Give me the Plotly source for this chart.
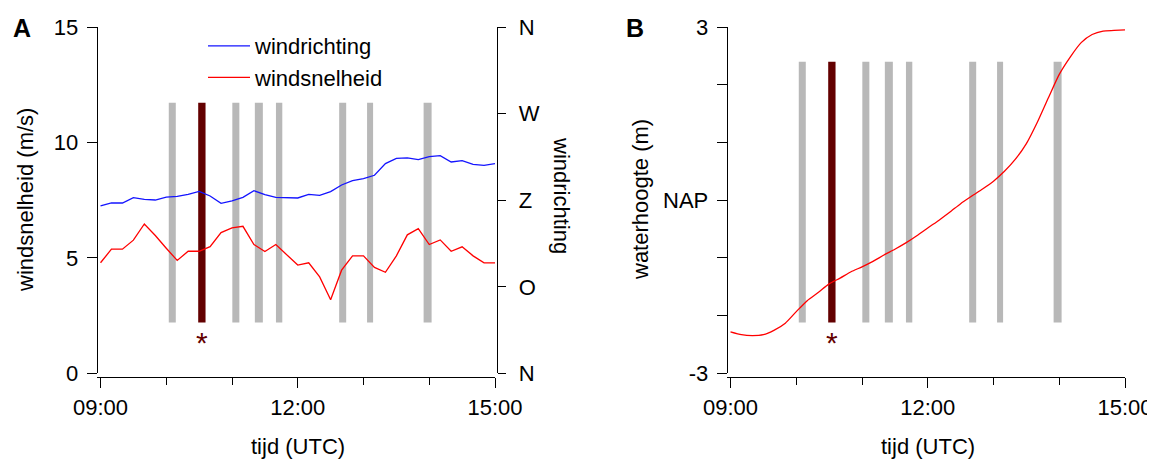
import plotly.graph_objects as go

# Page body adds an 8 px offset; the figure is sized to fit the 1155x464 window
OFF = 8
W, H = 1155 - OFF, 464 - OFF
DAY = "2000-01-01 "

# ---------------- data ----------------
times = ["09:00", "09:10", "09:20", "09:30", "09:40", "09:50",
         "10:00", "10:10", "10:20", "10:30", "10:40", "10:50",
         "11:00", "11:10", "11:20", "11:30", "11:40", "11:50",
         "12:00", "12:10", "12:20", "12:30", "12:40", "12:50",
         "13:00", "13:10", "13:20", "13:30", "13:40", "13:50",
         "14:00", "14:10", "14:20", "14:30", "14:40", "14:50", "15:00"]

wind_speed = [4.79, 5.38, 5.38, 5.77, 6.47, 5.97, 5.42, 4.89, 5.29, 5.29,
              5.49, 6.10, 6.30, 6.37, 5.58, 5.28, 5.58, 5.15, 4.69, 4.79,
              4.18, 3.19, 4.47, 5.09, 5.09, 4.59, 4.38, 5.09, 6.00, 6.27,
              5.58, 5.78, 5.29, 5.48, 5.09, 4.79, 4.79]

wind_dir = [174.0, 177.1, 177.1, 182.6, 180.9, 180.2, 183.3, 184.0, 186.1, 189.2,
            184.4, 176.7, 179.2, 183.0, 189.9, 185.8, 183.0, 182.3, 182.3, 186.1,
            185.1, 188.9, 195.8, 200.3, 202.4, 205.9, 218.0, 223.5, 223.9, 222.1,
            225.2, 226.3, 219.7, 221.1, 217.3, 216.2, 218.0]

water_level = [-2.28, -2.33, -2.345, -2.33, -2.25, -2.13, -1.93, -1.74, -1.60, -1.45,
               -1.35, -1.24, -1.155, -1.06, -0.95, -0.85, -0.74, -0.615, -0.48, -0.35,
               -0.21, -0.06, 0.07, 0.195, 0.33, 0.50, 0.71, 0.98, 1.35, 1.77,
               2.18, 2.48, 2.73, 2.87, 2.93, 2.94, 2.95]

event_times = ["10:05:30", "10:32:30", "11:03:30", "11:24:30",
               "11:43:00", "12:41:00", "13:06:00", "13:58:30"]
event_width_min = [6.4, 6.7, 6.4, 7.3, 5.8, 6.4, 5.5, 7.3]
highlight = 1  # the event marked with *

speed_band = [2.2, 11.72]     # m/s, vertical extent of event bars (panel A)
level_band = [-2.12, 2.40]    # m, vertical extent of event bars (panel B)

dir_ticks = [0, 90, 180, 270, 360]
dir_labels = ["N", "O", "Z", "W", "N"]
level_ticks = [-3, 0, 3]
level_labels = ["-3", "NAP", "3"]

# ---------------- styles ----------------
FONT = "Liberation Sans, Arial, sans-serif"
FS = 22
GRAY = "#b8b8b8"
DARK = "#630000"
BLUE = "#1414ff"
RED = "#ff0000"

t = [DAY + s for s in times]
ev_x = [DAY + s for s in event_times]
ev_w = [m * 60000 for m in event_width_min]
ev_col = [DARK if i == highlight else GRAY for i in range(len(event_times))]


def px_x(p):
    # window pixel -> paper fraction
    return (p - OFF) / W


def px_y(p):
    return 1 - (p - OFF) / H


fig = go.Figure()

# Panel A bars
fig.add_trace(go.Bar(
    x=ev_x, y=[speed_band[1] - speed_band[0]] * len(ev_x), base=speed_band[0],
    width=ev_w, marker=dict(color=ev_col, line=dict(width=0)),
    xaxis="x", yaxis="y", showlegend=False, hoverinfo="skip"))
# Panel B bars
fig.add_trace(go.Bar(
    x=ev_x, y=[level_band[1] - level_band[0]] * len(ev_x), base=level_band[0],
    width=ev_w, marker=dict(color=ev_col, line=dict(width=0)),
    xaxis="x2", yaxis="y3", showlegend=False, hoverinfo="skip"))

# Lines
fig.add_trace(go.Scatter(x=t, y=wind_dir, mode="lines", name="windrichting",
                         line=dict(color=BLUE, width=1.3), xaxis="x", yaxis="y2"))
fig.add_trace(go.Scatter(x=t, y=wind_speed, mode="lines", name="windsnelheid",
                         line=dict(color=RED, width=1.3), xaxis="x", yaxis="y"))
fig.add_trace(go.Scatter(x=t, y=water_level, mode="lines", showlegend=False,
                         line=dict(color=RED, width=1.3, shape="spline", smoothing=0.6),
                         xaxis="x2", yaxis="y3"))

x_range = [DAY + "08:56:48", DAY + "15:00"]
ydom = [px_y(373.4), px_y(27)]
xaxis_common = dict(
    type="date", range=x_range, tickformat="%H:%M",
    tick0=DAY + "09:00", dtick=3 * 3600000,
    showline=True, linecolor="black", linewidth=1,
    ticks="outside", ticklen=10, tickwidth=1, tickcolor="black",
    minor=dict(dtick=3600000, ticks="outside", ticklen=7, tickwidth=1, tickcolor="black",
               showgrid=False),
    showgrid=False, zeroline=False, anchor="free", position=px_y(377),
    automargin=False, ticklabelstandoff=1, ticklabeloverflow="allow",
    tickfont=dict(family=FONT, size=FS, color="black"),
)
yaxis_common = dict(
    showline=True, linecolor="black", linewidth=1,
    ticks="outside", ticklen=10, tickwidth=1, tickcolor="black",
    showgrid=False, zeroline=False, anchor="free", domain=ydom,
    automargin=False, ticklabelstandoff=4, ticklabeloverflow="allow",
    tickfont=dict(family=FONT, size=FS, color="black"),
)
y2_common = {k: v for k, v in yaxis_common.items() if k not in ("domain", "ticklen", "ticklabelstandoff")}

fig.update_layout(
    template="none",
    width=W, height=H,
    margin=dict(l=0, r=0, t=0, b=0, autoexpand=False),
    paper_bgcolor="white", plot_bgcolor="white",
    font=dict(family=FONT, size=FS, color="black"),
    barmode="overlay",
    xaxis=dict(domain=[px_x(97), px_x(495)], **xaxis_common),
    xaxis2=dict(domain=[px_x(727), px_x(1125)], **xaxis_common),
    yaxis=dict(range=[0, 15], tickvals=[0, 5, 10, 15], position=px_x(96.7), **yaxis_common),
    yaxis2=dict(range=[0, 360], tickvals=dir_ticks, ticktext=dir_labels, overlaying="y",
                side="right", position=px_x(497.3), ticklen=8, ticklabelstandoff=8,
                **y2_common),
    yaxis3=dict(range=[-3, 3], tickvals=level_ticks, ticktext=level_labels,
                minor=dict(dtick=1, ticks="outside", ticklen=10, tickwidth=1,
                           tickcolor="black", showgrid=False),
                position=px_x(726.7), **yaxis_common),
    legend=dict(x=px_x(203), y=px_y(25), xanchor="left", yanchor="top",
                bgcolor="rgba(0,0,0,0)", font=dict(family=FONT, size=FS, color="black"),
                itemwidth=42, tracegroupgap=0),
    showlegend=True,
)

TXT = dict(family=FONT, size=FS, color="black")
ann = []


def label(text, x, y, angle=0, font=None):
    ann.append(dict(text=text, x=px_x(x), y=px_y(y), xref="paper", yref="paper",
                    xanchor="center", yanchor="middle", textangle=angle,
                    showarrow=False, font=font or TXT))


# panel letters
label("<b>A</b>", 22, 28, font=dict(size=25, family=FONT, color="black"))
label("<b>B</b>", 635, 28, font=dict(size=25, family=FONT, color="black"))
# axis titles
label("windsnelheid (m/s)", 25, 200, -90)
label("windrichting", 562, 195, 90)
label("waterhoogte (m)", 640, 200, -90)
label("tijd (UTC)", 298, 446)
label("tijd (UTC)", 928, 446)

# asterisks under the highlighted event
ann.append(dict(text="*", x=ev_x[highlight], y=1.33, xref="x", yref="y",
                xanchor="center", yanchor="middle",
                showarrow=False, font=dict(size=30, family=FONT, color=DARK)))
ann.append(dict(text="*", x=ev_x[highlight], y=-2.46, xref="x2", yref="y3",
                xanchor="center", yanchor="middle",
                showarrow=False, font=dict(size=30, family=FONT, color=DARK)))
fig.update_layout(annotations=ann)

fig.write_html("out.html")
